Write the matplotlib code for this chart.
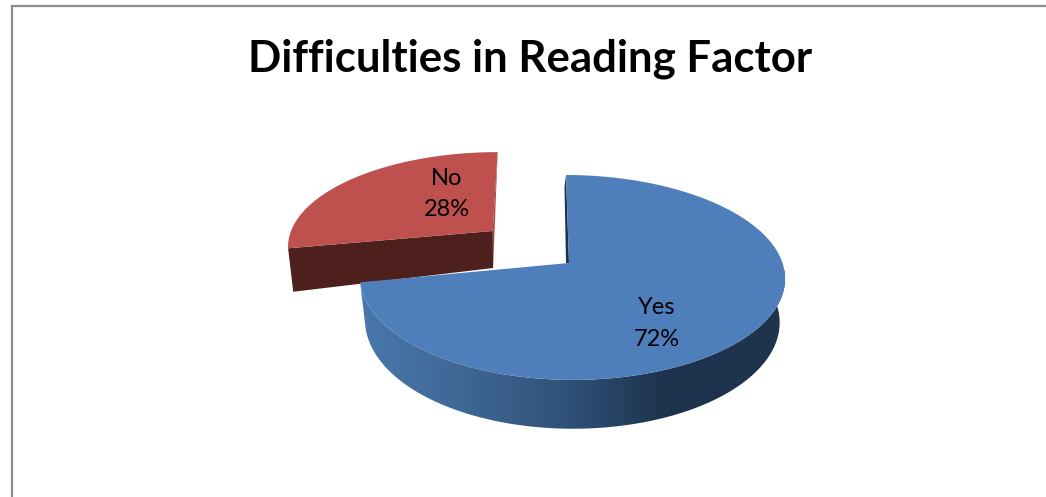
import numpy as np
import matplotlib
matplotlib.use("Agg")
import matplotlib.pyplot as plt
from matplotlib.colors import LinearSegmentedColormap
from matplotlib.patches import Polygon

title = "Difficulties in Reading Factor"
labels = ["Yes", "No"]
values = [72, 28]

# projected pie: everything is in image pixels
KEEN = 0.141   # perspective strength
YES_APEX = (569, 263)
NO_APEX = (492.7, 231)
YES_R = (210.5, 100.4)
NO_R = (201.7, 90)
YES_LEAN = -0.034
NO_LEAN = 0.063
YES_BIAS = 3


def rim(theta, apex, r, lean, bias=0):
	w = 1 + KEEN * np.sin(theta)
	y = -r[1] * np.sin(theta) / w
	x = r[0] * np.cos(theta) / w + bias * np.cos(theta) ** 2 - lean * y
	return apex[0] + x, apex[1] + y


def drop(x, y, apex, depth, grow, shrink):
	# same point on the bottom face of the slab
	y2 = y + depth + grow * (y - apex[1])
	x2 = apex[0] + (x - apex[0]) * shrink
	return x2, y2


fig = plt.figure(figsize=(10.46, 4.97), dpi=100)
ax = fig.add_axes([0, 0, 1, 1])

# slice angles come from the values, first slice starts at 12 o'clock going clockwise
total = sum(values)
yes_sweep = 2 * np.pi * values[0] / total
start = np.pi / 2
split = start - yes_sweep + 2 * np.pi   # same direction as the No slice

# No slice
t = np.linspace(start, split, 120)
nx, ny = rim(t, NO_APEX, NO_R, NO_LEAN)
lx, ly = drop(nx[-1], ny[-1], NO_APEX, 37, 0.37, 0.975)
ax.add_patch(Polygon([(nx[0], ny[0]), NO_APEX, (NO_APEX[0] + 0.4, NO_APEX[1] + 37)],
	closed=True, fc="#a94744", ec="none", zorder=1))
ax.add_patch(Polygon([NO_APEX, (nx[-1], ny[-1]), (lx, ly), (NO_APEX[0] + 0.4, NO_APEX[1] + 37)],
	closed=True, fc="#4d1f1d", ec="none", zorder=2))
ax.add_patch(Polygon(list(zip(nx, ny)) + [NO_APEX], closed=True, fc="#be504d", ec="none", zorder=3))

# Yes slice, outer wall with the horizontal gradient
t = np.linspace(split, 2 * np.pi, 200)
sx, sy = rim(t, YES_APEX, YES_R, YES_LEAN, YES_BIAS)
bx, by = drop(sx, sy, YES_APEX, 43, 0.05, 0.975)
wall = Polygon(list(zip(sx, sy)) + list(zip(bx[::-1], by[::-1])), closed=True, fc="none", ec="none")
ax.add_patch(wall)
cmap = LinearSegmentedColormap.from_list("wall", [
	(0.0, "#4a78ad"), (0.25, "#3f6795"), (0.5, "#2f5076"), (0.72, "#1d324c"), (1.0, "#1f344d")])
img = ax.imshow(np.linspace(0, 1, 256).reshape(1, -1), cmap=cmap, aspect="auto",
	extent=(355, 790, 440, 270), zorder=4)
img.set_clip_path(wall)

# thin dark wall behind the cut edge at 12 o'clock
tx, ty = rim(np.array([start]), YES_APEX, YES_R, YES_LEAN, YES_BIAS)
ax.add_patch(Polygon([(tx[0], ty[0]), (tx[0] - 1.5, ty[0] + 12), (YES_APEX[0] - 3, YES_APEX[1]), YES_APEX],
	closed=True, fc="#1d324c", ec="none", zorder=4))

# Yes slice, top face
t = np.linspace(start, split - 2 * np.pi, 300)
yx, yy = rim(t, YES_APEX, YES_R, YES_LEAN, YES_BIAS)
ax.add_patch(Polygon(list(zip(yx, yy)) + [YES_APEX], closed=True, fc="#4e7fbb", ec="none", zorder=5))

# data labels
for name, val, px, py in zip(labels, values, [657, 447], [323.5, 194]):
	ax.text(px, py, name + "\n" + str(val) + "%", ha="center", va="center", fontsize=17,
		family="Lato", linespacing=1.62, color="black", zorder=6)

ax.text(530.5, 59, title, ha="center", va="center", fontsize=31.5, family="Lato", weight="bold", color="black")

# chart frame, bottom and right are cropped away
ax.plot([11.5, 11.5, 1046], [497, 5.7, 5.7], color="#8c8c8c", lw=1.6, solid_joinstyle="miter", zorder=7)

ax.set_xlim(0, 1046)
ax.set_ylim(497, 0)
ax.axis("off")
fig.savefig("out.png", dpi=100)
